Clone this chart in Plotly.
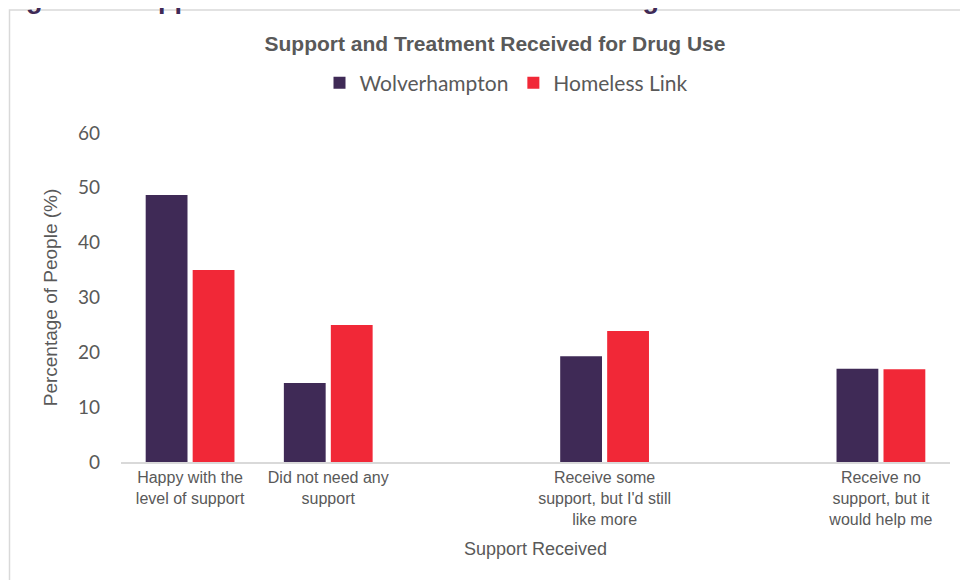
import plotly.graph_objects as go

categories = [
    "Happy with the<br>level of support",
    "Did not need any<br>support",
    " ",
    "Receive some<br>support, but I'd still<br>like more",
    "  ",
    "Receive no<br>support, but it<br>would help me",
]
wolverhampton = [48.7, 14.4, None, 19.3, None, 17.0]
homeless_link = [35.0, 25.0, None, 23.9, None, 16.9]
series_names = ["Wolverhampton", "Homeless Link"]
y_ticks = [0, 10, 20, 30, 40, 50, 60]

# page is offset by the default 8px body margin
O = 8
W, H = 968 - O, 580 - O
# plot area in page pixels: x 121..950, y 133..462
L, R, T, B = 121 - O, 968 - 950, 133 - O, 580 - 462
pw, ph = W - L - R, H - T - B

def px(x):  # page x -> paper
    return (x - O - L) / pw

def py(y):  # page y -> paper
    return (T + ph - (y - O)) / ph

fig = go.Figure()
fig.add_trace(go.Bar(x=categories, y=wolverhampton, name=series_names[0],
                     marker=dict(color="#3F2A56", line=dict(width=0))))
fig.add_trace(go.Bar(x=categories, y=homeless_link, name=series_names[1],
                     marker=dict(color="#F12837", line=dict(width=0))))

fig.update_layout(
    width=W, height=H,
    margin=dict(l=L, r=R, t=T, b=B),
    paper_bgcolor="white", plot_bgcolor="white",
    barmode="group", bargap=0.32, bargroupgap=0.11,
    title=dict(text="<b>Support and Treatment Received for Drug Use</b>",
               font=dict(family="Liberation Sans, Arial", size=21, color="#595959"),
               xref="container", x=(495 - O) / W, xanchor="center",
               yref="container", y=1 - (44 - O) / H, yanchor="middle"),
    legend=dict(orientation="h", x=px(506), xanchor="center", y=py(83), yanchor="middle",
                font=dict(family="Lato", size=21, color="#595959"),
                itemclick=False, traceorder="normal"),
    showlegend=True,
)
fig.update_xaxes(
    type="category", categoryorder="array", categoryarray=categories,
    showline=True, linecolor="#D9D9D9", linewidth=2, showgrid=False, ticks="",
    tickfont=dict(family="Liberation Sans, Arial", size=16, color="#595959"),
    title=dict(text="Support Received", standoff=16,
               font=dict(family="Liberation Sans, Arial", size=18, color="#595959")),
)
fig.update_yaxes(
    range=[0, 60], tickvals=y_ticks, showgrid=False, zeroline=False, showline=False,
    tickfont=dict(family="Lato", size=19, color="#595959"), ticklabelstandoff=20,
    title=dict(text="Percentage of People (%)", standoff=15,
               font=dict(family="Liberation Sans, Arial", size=19, color="#595959")),
)

fig.add_shape(type="rect", xref="paper", yref="paper",
              x0=px(9.5), x1=px(990), y0=py(10), y1=py(600),
              line=dict(color="#D9D9D9", width=1.5), fillcolor="rgba(0,0,0,0)", layer="below")

fig.add_annotation(text="<b>Figure 6: Support and Treatment Received for Drug Use</b>",
                   xref="paper", yref="paper", x=px(0), y=py(16),
                   xanchor="left", yanchor="bottom", showarrow=False,
                   font=dict(family="Liberation Sans, Arial", size=27, color="#3F2A56"))

fig.write_html("out.html")
